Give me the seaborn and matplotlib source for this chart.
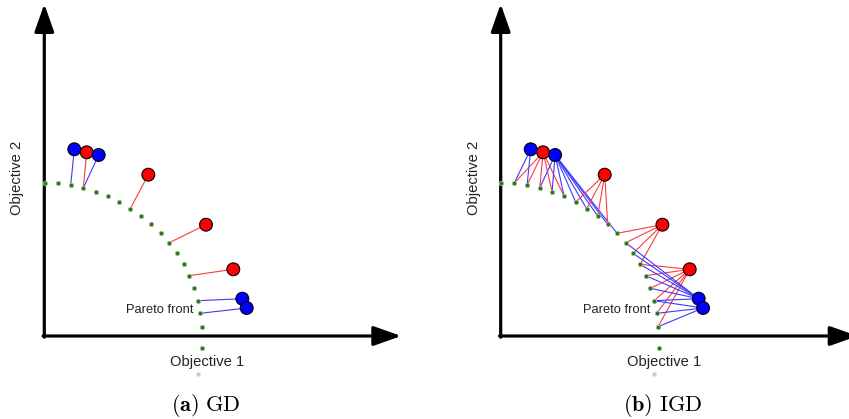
import matplotlib
matplotlib.use("Agg")
import matplotlib.pyplot as plt
import pandas as pd
import seaborn as sns

# ---- data (objective units, origin at axis corner) ----
pareto_x = [0.7, 13.4, 26.4, 39.0, 51.4, 63.4, 75.0, 86.0, 97.0, 107.0, 116.4,
            125.0, 132.4, 139.4, 145.0, 149.7, 153.4, 156.0, 157.4, 158.0]
pareto_y = [153.3, 152.7, 151.0, 148.0, 144.3, 139.7, 134.0, 127.3, 120.0, 111.7, 102.7,
            93.3, 82.7, 71.7, 60.3, 47.7, 35.3, 22.7, 9.3, -12.3]
ghost_x = [153.4]
ghost_y = [-38.3]

sol_x = [30.0, 42.4, 54.4, 104.0, 161.7, 189.0, 198.0, 202.4]
sol_y = [186.7, 183.7, 181.0, 161.3, 111.3, 66.7, 37.3, 28.0]
sol_kind = ["blue", "red", "blue", "red", "red", "red", "blue", "blue"]

gd_links = [(0, 2), (1, 3), (2, 3), (3, 7), (4, 11), (5, 14), (6, 16), (7, 17)]
igd_links = [
    (0, [1, 2]),
    (1, [1, 2, 3, 4, 5]),
    (2, [3, 4, 5, 6, 7, 8, 9, 10]),
    (3, [6, 7, 8, 9]),
    (4, [10, 11, 12, 13]),
    (5, [13, 14, 15, 16, 17, 18]),
    (6, [11, 12, 13, 14, 15, 16]),
    (7, [16, 17, 18]),
]

x_axis_len = 357
y_axis_len = 332
captions = [r"$\mathbf{(a)}\ \mathrm{GD}$", r"$\mathbf{(b)}\ \mathrm{IGD}$"]

colors = {"blue": "#0000ff", "red": "#ff0000"}
line_colors = {"blue": "#3a3aff", "red": "#ff3a3a"}

sns.set_theme(style="white")
plt.rcParams["font.family"] = ["Liberation Sans", "DejaVu Sans"]
plt.rcParams["mathtext.fontset"] = "cm"

fig = plt.figure(figsize=(8.49, 4.19), dpi=100)
W, H = 849.0, 419.0
ax_w = 424.5
ax_l = fig.add_axes([0, 0, ax_w / W, 1])
ax_r = fig.add_axes([456.4 / W, 0, ax_w / W, 1])

sol_df = pd.DataFrame({"x": sol_x, "y": sol_y, "kind": sol_kind})
par_df = pd.DataFrame({"x": pareto_x, "y": pareto_y})
ghost_df = pd.DataFrame({"x": ghost_x, "y": ghost_y})


def draw_links(ax, links):
    for s, p in links:
        k = sol_kind[s]
        ax.plot([sol_x[s], pareto_x[p]], [sol_y[s], pareto_y[p]],
                color=line_colors[k], lw=0.8, zorder=2, solid_capstyle="round")


for i, ax in enumerate([ax_l, ax_r]):
    ax.set_xlim(-44.3, 380.2)
    ax.set_ylim(-83, 336)
    ax.axis("off")

    # axes arrows
    style = "-|>,head_length=0.85,head_width=0.3"
    ax.annotate("", xy=(0, y_axis_len), xytext=(0, -1.2),
                arrowprops=dict(arrowstyle=style, lw=2.3, color="black",
                                shrinkA=0, shrinkB=0, mutation_scale=20),
                annotation_clip=False, zorder=1)
    ax.annotate("", xy=(x_axis_len, 0), xytext=(-1.2, 0),
                arrowprops=dict(arrowstyle=style, lw=2.3, color="black",
                                shrinkA=0, shrinkB=0, mutation_scale=20),
                annotation_clip=False, zorder=1)

    if i == 0:
        draw_links(ax, gd_links)
    else:
        draw_links(ax, [(s, p) for s, ps in igd_links for p in ps])

    sns.scatterplot(data=par_df, x="x", y="y", ax=ax, color="#2f6e22", s=10,
                    marker="o", edgecolor="#9cc48c", linewidth=0.6, zorder=3,
                    legend=False, clip_on=False)
    sns.scatterplot(data=ghost_df, x="x", y="y", ax=ax, color="#b5d3aa", s=9,
                    marker="o", edgecolor="#dfeedb", linewidth=0.6, zorder=3,
                    legend=False, clip_on=False)
    sns.scatterplot(data=sol_df, x="x", y="y", hue="kind", palette=colors, ax=ax,
                    s=85, edgecolor="black", linewidth=0.8, zorder=5,
                    legend=False, clip_on=False)

    ax.text(149.5, 26, "Pareto front", ha="right", va="center",
            fontsize=9.3, color="#222222", zorder=6)
    ax.text(-27, 158, "Objective 2", rotation=90, ha="center", va="center",
            fontsize=10.6, color="#222222")
    ax.text(163, -26, "Objective 1", ha="center", va="center",
            fontsize=10.6, color="#222222")
    ax.text(162, -69, captions[i], ha="center", va="center",
            fontsize=16, color="black")
    ax.set_xlabel("")
    ax.set_ylabel("")

fig.savefig("out.png", dpi=100)
